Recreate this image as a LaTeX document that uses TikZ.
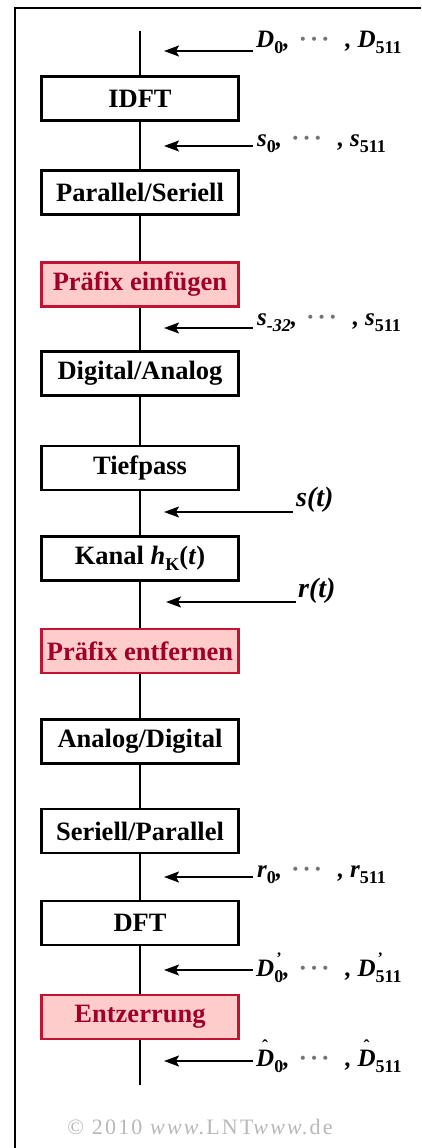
\documentclass[tikz,border=0pt]{standalone}
\usepackage{fontspec}
\setmainfont{Liberation Serif}
\usetikzlibrary{arrows.meta}
\definecolor{redline}{RGB}{192,20,50}
\definecolor{redfill}{RGB}{255,204,204}
\definecolor{redtext}{RGB}{160,0,40}
\newcommand{\lsub}[1]{\raisebox{-6pt}{\fontsize{18}{18}\selectfont\bfseries\upshape #1}}
\newcommand{\isub}[1]{\raisebox{-6pt}{\fontsize{18}{18}\selectfont\bfseries\itshape #1}}
\newcommand{\mydots}{\hspace{10pt}\textcolor{black!55}{\textperiodcentered\hspace{5pt}\textperiodcentered\hspace{5pt}\textperiodcentered}\hspace{17pt}}
\newcommand{\Dpr}[1]{D\makebox[0pt][l]{\raisebox{13pt}{\upshape\fontsize{16}{16}\selectfont\hspace{2pt}'}}\lsub{#1}}
\newcommand{\Dhat}[1]{\makebox[0pt][l]{\hspace{6pt}\raisebox{14pt}{\upshape\fontsize{18}{18}\selectfont ˆ}}D\lsub{#1}}
\begin{document}
\begin{tikzpicture}[x=1pt,y=-1pt,
  box/.style={draw, line width=2.2pt, minimum width=197pt, minimum height=44pt, inner sep=0pt,
    font=\fontsize{26.5}{26.5}\selectfont\bfseries, fill=white},
  redbox/.style={box, draw=redline, fill=redfill, text=redtext},
  flow/.style={line width=2pt},
  sig/.style={line width=1.6pt, -{Stealth[length=15pt,width=11pt,inset=3pt]}},
  lab/.style={anchor=base west, inner sep=0pt, font=\fontsize{25}{25}\selectfont\bfseries\itshape},
  biglab/.style={lab, font=\fontsize{28}{28}\selectfont\bfseries\itshape}]
\useasboundingbox (0,0) rectangle (421,1148);
\draw[line width=2pt] (15,1148) -- (15,8) -- (421,8);

\coordinate (top) at (140,31);
\coordinate (bot) at (140,1085);
\node[box] (idft) at (140,98.5) {IDFT};
\node[box] (ps) at (140,192.5) {Parallel/Seriell};
\node[redbox] (pe) at (140,284.5) {Präfix einfügen};
\node[box] (da) at (140,373.5) {Digital/Analog};
\node[box] (tp) at (140,468) {Tiefpass};
\node[box] (ka) at (140,558.5) {Kanal \textit{h}\raisebox{-6pt}{\fontsize{18}{18}\selectfont K}(\textit{t})};
\node[redbox] (pr) at (140,651) {Präfix entfernen};
\node[box] (ad) at (140,741.5) {Analog/Digital};
\node[box] (sp) at (140,831) {Seriell/Parallel};
\node[box] (dft) at (140,923) {DFT};
\node[redbox] (ez) at (140,1017) {Entzerrung};

\draw[flow] (top) -- (idft) -- (ps) -- (pe) -- (da) -- (tp) -- (ka) -- (pr) -- (ad) -- (sp) -- (dft) -- (ez) -- (bot);

% signal arrows
\coordinate (t1) at (253,51);   \coordinate (h1) at (164,51);
\coordinate (t2) at (253,146);  \coordinate (h2) at (164,146);
\coordinate (t3) at (253,328);  \coordinate (h3) at (164,328);
\coordinate (t4) at (293,512);  \coordinate (h4) at (164,512);
\coordinate (t5) at (296,602);  \coordinate (h5) at (166,602);
\coordinate (t6) at (253,877);  \coordinate (h6) at (164,877);
\coordinate (t7) at (253,970);  \coordinate (h7) at (164,970);
\coordinate (t8) at (253,1061); \coordinate (h8) at (164,1061);
\foreach \i in {1,...,8} { \draw[sig] (t\i) -- (h\i); }

\node[lab] (l1) at (256,48) {D\lsub{0},\mydots,\hspace{6pt}D\lsub{511}};
\node[lab] (l2) at (257,146) {s\lsub{0},\mydots,\hspace{6pt}s\lsub{511}};
\node[lab] (l3) at (257,325) {s\isub{-32},\mydots,\hspace{6pt}s\lsub{511}};
\node[biglab] (l4) at (296,506) {s(t)};
\node[biglab] (l5) at (298,597) {r(t)};
\node[lab] (l6) at (257,877) {r\lsub{0},\mydots,\hspace{6pt}r\lsub{511}};
\node[lab] (l7) at (256,976) {\Dpr{0},\mydots,\hspace{6pt}\Dpr{511}};
\node[lab] (l8) at (256,1066) {\Dhat{0},\mydots,\hspace{6pt}\Dhat{511}};

\node[font=\fontsize{22}{22}\selectfont\addfontfeatures{LetterSpace=10}, text=black!28] (copy) at (200,1127) {© 2010 \textit{www}.LNT\textit{www}.de};
\end{tikzpicture}
\end{document}
